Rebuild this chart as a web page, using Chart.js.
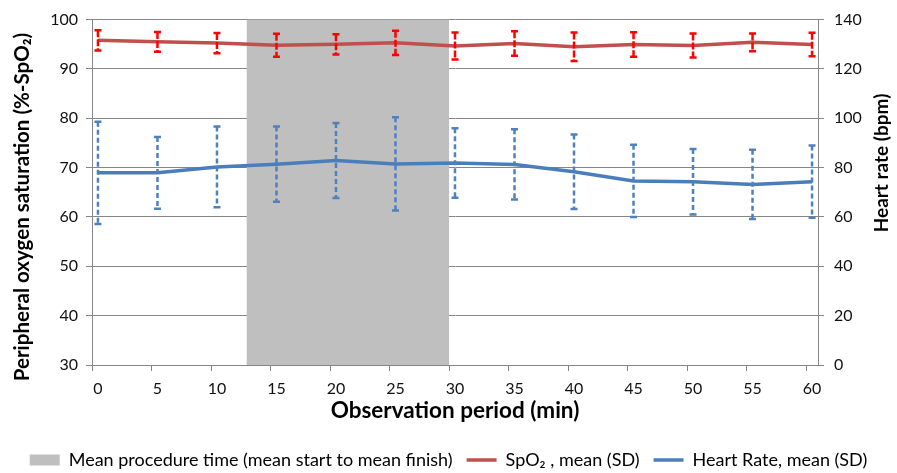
<!DOCTYPE html>
<html><head><meta charset="utf-8">
<script src="https://cdn.jsdelivr.net/npm/chart.js@4/dist/chart.umd.min.js"></script>
<style>html,body{margin:0;padding:0;background:#fff}#wrap{width:897px;height:473px}</style>
</head><body><div id="wrap"><canvas id="c" width="897" height="473"></canvas></div>
<script>
// ---- data ----
const minutes = [0, 5, 10, 15, 20, 25, 30, 35, 40, 45, 50, 55, 60];
const spo2Mean = [95.8, 95.5, 95.25, 94.8, 95.0, 95.3, 94.65, 95.15, 94.5, 94.95, 94.75, 95.4, 94.95];
const spo2SD   = [2.05, 2.0, 2.05, 2.35, 2.05, 2.45, 2.75, 2.5, 2.9, 2.5, 2.45, 1.8, 2.4];
const hrMean   = [77.9, 77.9, 80.3, 81.4, 82.9, 81.5, 81.9, 81.3, 78.3, 74.6, 74.3, 73.2, 74.3];
const hrSD     = [20.7, 14.55, 16.35, 15.25, 15.2, 18.9, 14.1, 14.25, 15.1, 14.65, 13.3, 14.05, 14.65];
const procedureWindow = [12.5, 29.5];
const xTickLabels = [0, 5, 10, 15, 20, 25, 30, 35, 40, 45, 50, 55, 60];
const legendLabels = ['Mean procedure time (mean start to mean finish)', 'SpO\u2082 , mean (SD)', 'Heart Rate, mean (SD)'];
const axisTitles = {x: 'Observation period (min)', left: 'Peripheral oxygen saturation (%-SpO\u2082)', right: 'Heart rate (bpm)'};

const FONT = "Lato, 'Liberation Sans', sans-serif";
Chart.defaults.font.family = FONT;
Chart.defaults.color = '#111';
const GRID = '#868686';
const RED_LINE = '#C0504D', RED_ERR = '#FF0000';
const BLUE_LINE = '#4A7EBB', BLUE_ERR = '#4F81BD';
const SHADE = '#BFBFBF';

const shadePlugin = {
  id: 'shade',
  beforeDatasetsDraw(chart) {
    const {ctx, chartArea, scales: {x}} = chart;
    const x0 = x.getPixelForValue(procedureWindow[0]);
    const x1 = x.getPixelForValue(procedureWindow[1]);
    ctx.save();
    ctx.fillStyle = SHADE;
    ctx.fillRect(x0, chartArea.top, x1 - x0, chartArea.bottom - chartArea.top);
    ctx.restore();
  }
};

function vTitle(ctx, text, cx, cy, size) {
  ctx.save();
  ctx.translate(cx, cy);
  ctx.rotate(-Math.PI / 2);
  ctx.font = "bold " + size + "px " + FONT;
  ctx.fillStyle = '#000';
  ctx.textAlign = 'center';
  ctx.textBaseline = 'middle';
  ctx.fillText(text, 0, 0);
  ctx.restore();
}

const errorBarPlugin = {
  id: 'errorBars',
  afterDatasetsDraw(chart) {
    const {ctx, scales} = chart;
    const sets = [
      {mean: spo2Mean, sd: spo2SD, axis: 'y', color: RED_ERR, dash: [7, 2]},
      {mean: hrMean, sd: hrSD, axis: 'y1', color: BLUE_ERR, dash: [5, 3]}
    ];
    ctx.save();
    sets.forEach(s => {
      const ys = scales[s.axis];
      minutes.forEach((m, i) => {
        const px = scales.x.getPixelForValue(m);
        const top = ys.getPixelForValue(s.mean[i] + s.sd[i]);
        const bot = ys.getPixelForValue(s.mean[i] - s.sd[i]);
        ctx.strokeStyle = s.color;
        ctx.lineWidth = 2.5;
        ctx.setLineDash(s.dash);
        ctx.beginPath(); ctx.moveTo(px, top); ctx.lineTo(px, bot); ctx.stroke();
        ctx.setLineDash([]);
        ctx.beginPath();
        ctx.moveTo(px - 3.5, top); ctx.lineTo(px + 3.5, top);
        ctx.moveTo(px - 3.5, bot); ctx.lineTo(px + 3.5, bot);
        ctx.stroke();
      });
    });
    ctx.restore();
  },
  afterDraw(chart) {
    vTitle(chart.ctx, axisTitles.left, 22, 207, 20.5);
    vTitle(chart.ctx, axisTitles.right, 882, 163, 19);
  }
};

new Chart(document.getElementById('c'), {
  type: 'line',
  data: {
    datasets: [
      {label: legendLabels[1], data: minutes.map((m, i) => ({x: m, y: spo2Mean[i]})), yAxisID: 'y',
       borderColor: RED_LINE, backgroundColor: RED_LINE, borderWidth: 3.5, pointRadius: 0, tension: 0},
      {label: legendLabels[2], data: minutes.map((m, i) => ({x: m, y: hrMean[i]})), yAxisID: 'y1',
       borderColor: BLUE_LINE, backgroundColor: BLUE_LINE, borderWidth: 3.5, pointRadius: 0, tension: 0}
    ]
  },
  options: {
    responsive: false,
    animation: false,
    layout: {padding: {top: 17, left: 0, right: 0, bottom: -6}},
    scales: {
      x: {
        type: 'linear', min: -0.5, max: 60.5,
        afterBuildTicks: s => { s.ticks = xTickLabels.map(v => ({value: v - 0.5})); },
        afterFit: s => { s.height = 72; },
        ticks: {callback: (v, i) => String(xTickLabels[i]), labelOffset: 6, padding: 8,
                autoSkip: false, maxRotation: 0, font: {size: 16}, color: '#111'},
        grid: {drawOnChartArea: false, color: GRID, tickLength: 6},
        border: {color: GRID, width: 1},
        title: {display: true, text: axisTitles.x, font: {size: 22.5, weight: 'bold'},
                color: '#000', padding: {top: 0, bottom: 12.5}}
      },
      y: {
        position: 'left', min: 30, max: 100,
        ticks: {stepSize: 10, padding: 8, font: {size: 16}, color: '#111'},
        afterFit: s => { s.width = 92; },
        grid: {color: GRID, tickLength: 6},
        border: {color: GRID, width: 1}
      },
      y1: {
        position: 'right', min: 0, max: 140,
        ticks: {stepSize: 20, padding: 10, font: {size: 16}, color: '#111'},
        afterFit: s => { s.width = 79; },
        grid: {drawOnChartArea: false, color: GRID, tickLength: 6},
        border: {color: GRID, width: 1}
      }
    },
    plugins: {
      tooltip: {enabled: false},
      legend: {
        position: 'bottom',
        labels: {
          usePointStyle: true, pointStyleWidth: 30, boxHeight: 11, padding: 14,
          font: {size: 18}, color: '#000',
          generateLabels: () => [
            {text: legendLabels[0], fillStyle: SHADE, strokeStyle: SHADE, lineWidth: 0, pointStyle: 'rect', hidden: false},
            {text: legendLabels[1], fillStyle: RED_LINE, strokeStyle: RED_LINE, lineWidth: 3.5, pointStyle: 'line', hidden: false, datasetIndex: 0},
            {text: legendLabels[2], fillStyle: BLUE_LINE, strokeStyle: BLUE_LINE, lineWidth: 3.5, pointStyle: 'line', hidden: false, datasetIndex: 1}
          ]
        }
      }
    }
  },
  plugins: [shadePlugin, errorBarPlugin]
});
</script>
</body></html>
